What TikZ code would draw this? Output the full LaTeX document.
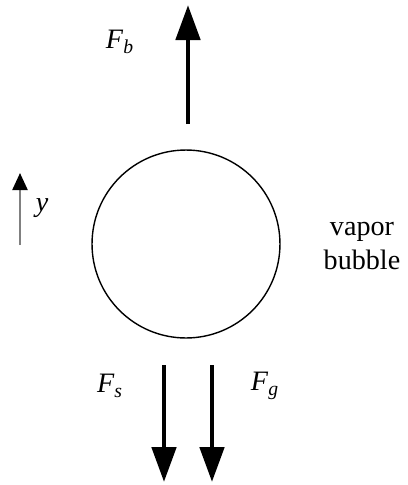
\documentclass[tikz,border=0pt]{standalone}
\usepackage{fontspec}
\setmainfont{Liberation Serif}
\usetikzlibrary{arrows.meta}

\begin{document}
\begin{tikzpicture}[x=0.02cm,y=-0.02cm,
  force/.style={line width=2.8pt,-{Triangle[length=0.7cm,width=0.48cm]}},
  lbl/.style={font=\fontsize{16}{19}\selectfont}]
 \useasboundingbox (0,0) rectangle (407,485);
 \node[draw,circle,line width=0.8pt,minimum size=3.76cm,inner sep=0pt] (bubble) at (186,244) {};
 \node[lbl,align=center] (name) at (362,246) {vapor\\bubble};
 % forces
 \coordinate (fb0) at (188,124); \coordinate (fb1) at (188,5);
 \coordinate (fs0) at (164,365); \coordinate (fs1) at (164,482);
 \coordinate (fg0) at (212,365); \coordinate (fg1) at (212,482);
 \draw[force] (fb0) -- (fb1);
 \draw[force] (fs0) -- (fs1);
 \draw[force] (fg0) -- (fg1);
 \node[lbl] (Fb) at (120,42) {\textit{F}\textsubscript{\textit{b}}};
 \node[lbl] (Fs) at (110,386) {\textit{F}\textsubscript{\textit{s}}};
 \node[lbl] (Fg) at (265,386) {\textit{F}\textsubscript{\textit{g}}};
 % axis
 \coordinate (y0) at (20,245); \coordinate (y1) at (20,173);
 \draw[gray,line width=1.3pt,-{Triangle[length=0.34cm,width=0.3cm,black]}] (y0) -- (y1);
 \node[lbl] (ylab) at (42,208) {\textit{y}};
\end{tikzpicture}
\end{document}
